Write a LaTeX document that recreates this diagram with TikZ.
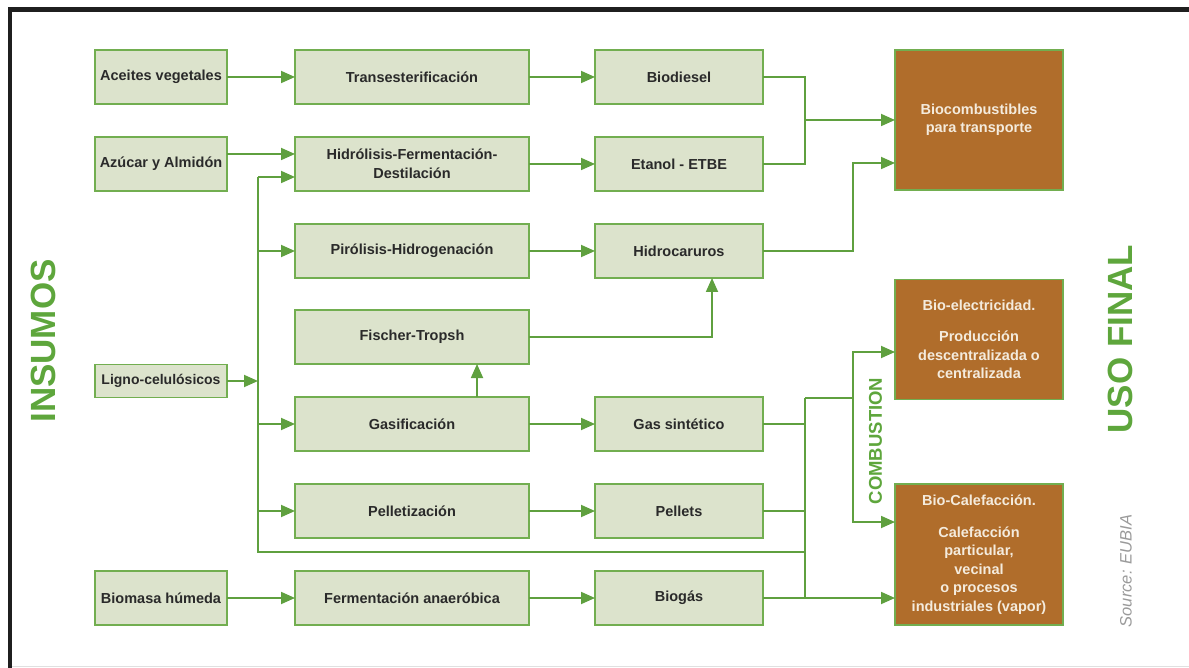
\documentclass[tikz,border=0pt]{standalone}
\usepackage{fontspec}
\setmainfont{Liberation Sans}
\usetikzlibrary{arrows.meta}
\definecolor{boxfill}{HTML}{DCE3CC}
\definecolor{boxline}{HTML}{72AE50}
\definecolor{arrowc}{HTML}{5FA03F}
\definecolor{brownc}{HTML}{B06D2B}
\definecolor{titlec}{HTML}{5EA63C}
\definecolor{txt}{HTML}{2A2A2A}
\definecolor{btxt}{HTML}{F4EBDD}
\definecolor{srcc}{HTML}{9A9A9A}
\begin{document}
\begin{tikzpicture}[x=1pt,y=-1pt,
  gbox/.style={draw=boxline, line width=1.5pt, fill=boxfill, inner sep=0pt, outer sep=0pt,
    text=txt, font=\bfseries\fontsize{14.5}{18.5}\selectfont, align=center},
  bbox/.style={draw=boxline, line width=1.3pt, fill=brownc, inner sep=0pt, outer sep=0pt,
    text=btxt, font=\bfseries\fontsize{14.5}{18.5}\selectfont, align=center},
  c1box/.style={gbox, minimum width=132pt, minimum height=54pt},
  c2box/.style={gbox, minimum width=234pt, minimum height=54pt},
  c3box/.style={gbox, minimum width=168pt, minimum height=54pt},
  conn/.style={draw=arrowc, line width=1.8pt},
  arr/.style={conn, -{Triangle[length=14pt,width=12pt]}},
  vtitle/.style={rotate=90, text=titlec, font=\bfseries\fontsize{35}{35}\selectfont, inner sep=0pt},
]
\useasboundingbox (0,0) rectangle (1189,668);
% frame
\fill[black!88] (8,7) rectangle (1189,12);
\fill[black!88] (8,7) rectangle (12,668);
\draw[black!12, line width=1pt] (12,666.5) -- (1189,666.5);

% column 1
\node[c1box] (aceites) at (161,77) {Aceites vegetales};
\node[c1box] (azucar) at (161,164) {Azúcar y Almidón};
\node[c1box, minimum height=33pt, font=\bfseries\fontsize{14}{18}\selectfont] (ligno) at (161,381) {Ligno-celulósicos};
\node[c1box] (biomasa) at (161,598) {Biomasa húmeda};

% column 2
\node[c2box] (trans) at (412,77) {Transesterificación};
\node[c2box] (hidro) at (412,164) {Hidrólisis-Fermentación-\\Destilación};
\node[c2box] (piro) at (412,251) {Pirólisis-Hidrogenación};
\node[c2box] (fischer) at (412,337) {Fischer-Tropsh};
\node[c2box] (gasi) at (412,424) {Gasificación};
\node[c2box] (pellz) at (412,511) {Pelletización};
\node[c2box] (fermen) at (412,598) {Fermentación anaeróbica};

% column 3
\node[c3box] (biodiesel) at (679,77) {Biodiesel};
\node[c3box] (etanol) at (679,164) {Etanol - ETBE};
\node[c3box] (hidroc) at (679,251) {Hidrocaruros};
\node[c3box] (gassint) at (679,424) {Gas sintético};
\node[c3box] (pellets) at (679,511) {Pellets};
\node[c3box] (biogas) at (679,598) {Biogás};

% column 4
\node[bbox, minimum width=168pt, minimum height=140pt] (bioc) at (979,120) {Biocombustibles\\para transporte};
\node[bbox, minimum width=168pt, minimum height=120pt] (bioel) at (979,339.5) {Bio-electricidad.\\[13pt]Producción\\descentralizada o\\centralizada};
\node[bbox, minimum width=168pt, minimum height=141pt] (biocal) at (979,554.5) {Bio-Calefacción.\\[13pt]Calefacción\\particular,\\vecinal\\o procesos\\industriales (vapor)};

% titles
\node[vtitle] (insumos) at (43,341) {INSUMOS};
\node[vtitle] (usofinal) at (1120,339) {USO FINAL};
\node[rotate=90, text=titlec, font=\bfseries\fontsize{18.5}{18.5}\selectfont, inner sep=0pt] (comb) at (875.5,441) {COMBUSTION};
\node[rotate=90, text=srcc, font=\itshape\fontsize{16.5}{16.5}\selectfont, inner sep=0pt] (src) at (1126,571) {Source: EUBIA};

% coordinates
\coordinate (lb) at (258,381);
\coordinate (btop) at (258,177);
\coordinate (bbot) at (258,552);
\coordinate (rbot) at (805,552);
\coordinate (t1) at (805,120);
\coordinate (t2) at (853,163);
\coordinate (ftx) at (712,337);
\coordinate (gfx) at (477,424);
\coordinate (c1) at (805,398);
\coordinate (c1b) at (805,598);
\coordinate (c2) at (853,398);
\coordinate (k1) at (853,352);
\coordinate (k2) at (853,522);

% row connectors
\draw[arr] (aceites) -- (trans);
\draw[arr] (trans) -- (biodiesel);
\draw[arr] (azucar.east |- 0,154) -- (hidro.west |- 0,154);
\draw[arr] (hidro) -- (etanol);
\draw[arr] (piro) -- (hidroc);
\draw[arr] (gasi) -- (gassint);
\draw[arr] (pellz) -- (pellets);
\draw[arr] (biomasa) -- (fermen);
\draw[arr] (fermen) -- (biogas);

% ligno bus
\draw[arr] (ligno) -- (lb);
\draw[conn] (btop) -- (bbot) -- (rbot);
\draw[arr] (btop) -- (hidro.west |- btop);
\draw[arr] (lb |- piro) -- (piro);
\draw[arr] (lb |- gasi) -- (gasi);
\draw[arr] (lb |- pellz) -- (pellz);

% Fischer-Tropsh
\draw[arr] (gasi.north -| gfx) -- (fischer.south -| gfx);
\draw[arr] (fischer.east) -- (ftx) -- (hidroc.south -| ftx);

% transport fuels
\draw[conn] (biodiesel.east) -| (t1) |- (etanol.east);
\draw[arr] (t1) -- (bioc.west |- t1);
\draw[arr] (hidroc.east) -| (t2) -- (bioc.west |- t2);

% combustion
\draw[conn] (gassint.east) -- (gassint.east -| c1);
\draw[conn] (pellets.east) -- (pellets.east -| c1);
\draw[conn] (c1) -- (c1b);
\draw[arr] (biogas) -- (biocal.west |- biogas);
\draw[conn] (c1) -- (c2);
\draw[arr] (c2) |- (bioel.west |- k1);
\draw[arr] (c2) |- (biocal.west |- k2);
\end{tikzpicture}
\end{document}
